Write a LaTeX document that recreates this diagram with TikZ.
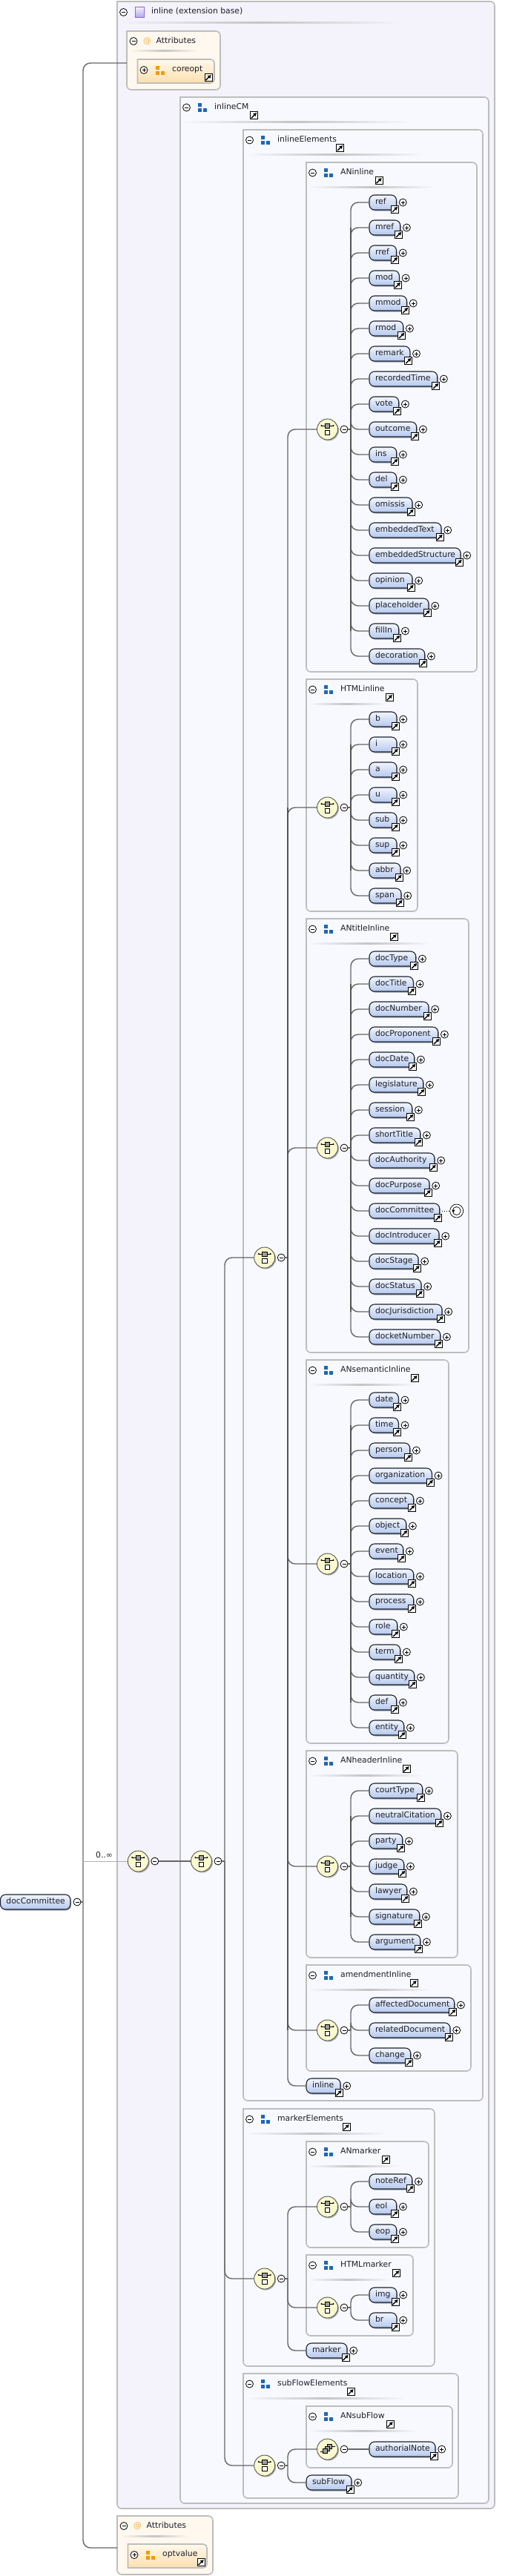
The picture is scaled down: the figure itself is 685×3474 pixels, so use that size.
\documentclass[tikz,border=0pt]{standalone}
\usepackage{fontspec}
\setmainfont{DejaVu Sans}
\usetikzlibrary{shadows,arrows.meta}

\definecolor{xouter}{HTML}{F4F2FA}
\definecolor{xinner}{HTML}{F8F9FE}
\definecolor{xattr}{HTML}{FEF8EE}
\definecolor{xline}{HTML}{BDBDBD}
\definecolor{xrule}{HTML}{C4C4C4}
\definecolor{xwirec}{HTML}{666666}
\definecolor{xthickc}{HTML}{555555}
\definecolor{xelemtop}{HTML}{F2F5FD}
\definecolor{xelembot}{HTML}{B4C9EE}
\definecolor{xedge}{HTML}{1C2233}
\definecolor{xtext}{HTML}{1E1E28}
\definecolor{xcompc}{HTML}{FBF9CE}
\definecolor{xblue}{HTML}{1F66B5}
\definecolor{xorange}{HTML}{F09A0C}
\definecolor{xattrtop}{HTML}{FFF9EC}
\definecolor{xattrbot}{HTML}{FDDFAE}

\tikzset{
  every node/.style={font=\fontsize{10.8}{12}\selectfont,text=xtext},
  xtitle/.style={anchor=west,inner sep=0pt,text height=8pt,text depth=2.5pt},
  xelem/.style={rectangle,anchor=west,rounded corners=7pt,draw=xedge,line width=1.1pt,outer sep=0pt,
    top color=xelemtop,bottom color=xelembot,minimum height=20pt,inner xsep=8pt,inner ysep=0pt,
    text width=#1pt-16pt,align=left,text height=8pt,text depth=2.5pt,
    drop shadow={shadow xshift=1pt,shadow yshift=-1.5pt,fill=black,opacity=.35}},
  xround/.style={circle,draw=black,line width=.8pt,fill=white,minimum size=10pt,inner sep=0pt,outer sep=0pt},
  xminus/.style={xround,path picture={
    \draw[line width=.8pt] ([xshift=-2.5pt]path picture bounding box.center) -- ([xshift=2.5pt]path picture bounding box.center);}},
  xplus/.style={xround,path picture={
    \draw[line width=.8pt] ([xshift=-2.5pt]path picture bounding box.center) -- ([xshift=2.5pt]path picture bounding box.center);
    \draw[line width=.8pt] ([yshift=-2.5pt]path picture bounding box.center) -- ([yshift=2.5pt]path picture bounding box.center);}},
  xlink/.style={rectangle,draw=black,line width=.9pt,fill=white,minimum size=10pt,inner sep=0pt,outer sep=0pt,path picture={
    \draw[black,line width=1.4pt,-{Latex[length=4.6pt,width=5.6pt]}]
      ([shift={(-3.5pt,-3.5pt)}]path picture bounding box.center) -- ([shift={(3.8pt,3.8pt)}]path picture bounding box.center);}},
  xsquares/.style={rectangle,minimum size=12pt,inner sep=0pt,path picture={
    \fill[#1] ([shift={(-6pt,6pt)}]path picture bounding box.center) rectangle ++(4.7pt,-5pt);
    \fill[#1] ([shift={(-6pt,-1pt)}]path picture bounding box.center) rectangle ++(4.7pt,-5pt);
    \fill[#1] ([shift={(1pt,-1pt)}]path picture bounding box.center) rectangle ++(5pt,-5pt);}},
  xcomp/.style={circle,draw=xthickc,line width=.9pt,fill=xcompc,minimum size=28pt,inner sep=0pt,outer sep=0pt,
    drop shadow={shadow xshift=1.5pt,shadow yshift=-1.5pt,fill=black,opacity=.3}},
  xseq/.style={xcomp,path picture={
    \draw[black,line width=.8pt] ([shift={(-8pt,5pt)}]path picture bounding box.center) -- ([shift={(8pt,5pt)}]path picture bounding box.center);
    \fill[black] ([shift={(-8pt,5pt)}]path picture bounding box.center) circle (1.1pt);
    \fill[black] ([shift={(8pt,5pt)}]path picture bounding box.center) circle (1.1pt);
    \draw[black,fill=gray!75,line width=.5pt] ([shift={(-3.1pt,8pt)}]path picture bounding box.center) rectangle ++(6.2pt,-6pt);
    \draw[black,fill=white,line width=.8pt] ([shift={(-3.2pt,-1pt)}]path picture bounding box.center) rectangle ++(6.4pt,-6.2pt);}},
  xchoice/.style={xcomp,path picture={
    \draw[black,line width=.8pt] ([shift={(-10pt,-3pt)}]path picture bounding box.center) -- ([shift={(-6pt,-3pt)}]path picture bounding box.center);
    \draw[black,line width=.8pt] ([shift={(6pt,4pt)}]path picture bounding box.center) -- ([shift={(10pt,4pt)}]path picture bounding box.center);
    \draw[black,fill=gray!75,line width=.5pt] ([shift={(0pt,7pt)}]path picture bounding box.center) rectangle ++(6pt,-6pt);
    \draw[black,fill=gray!75,line width=.5pt] ([shift={(-3pt,4pt)}]path picture bounding box.center) rectangle ++(6pt,-6pt);
    \draw[black,fill=gray!75,line width=.5pt] ([shift={(-6pt,1pt)}]path picture bounding box.center) rectangle ++(6pt,-6pt);}},
  xrecur/.style={circle,draw=black,line width=.7pt,fill=white,minimum size=18pt,inner sep=0pt,outer sep=0pt,path picture={
    \draw[black,line width=.7pt] (path picture bounding box.center) circle (5.5pt);
    \fill[black] ([shift={(-6.5pt,1.5pt)}]path picture bounding box.center) -- ++(4.4pt,0pt) -- ++(-2.2pt,-3.6pt) -- cycle;}},
  xbox/.style={draw=xline,line width=1.6pt},
  xwire/.style={draw=xwirec,line width=1.4pt,rounded corners=10pt},
  xthick/.style={draw=xthickc,line width=2.3pt},
  xthin/.style={draw=gray!60,line width=.6pt}
}

% frame with rounded right side: left, top, right, bottom, fill
\newcommand\xframe[5]{
  \draw[xbox,fill=#5] (#1,#2) [rounded corners=6pt] -- (#3,#2) -- (#3,#4) -- (#1,#4) [sharp corners] -- cycle;
}
% title rule fading at both ends: from, to, y, background
\newcommand\xrule[4]{
  \shade[left color=#4,right color=#4,middle color=xrule] (#1,#3-1) rectangle (#2,#3+1);
}
% model group box: name, left, top, right, bottom, link x, rule end
\newcommand\xgroup[7]{
  \xframe{#2}{#3}{#4}{#5}{xinner}
  \node[xminus] (#1-m) at (#2+8.5,#3+14) {};
  \node[xsquares=xblue] (#1-i) at (#2+30,#3+14) {};
  \node[xtitle] (#1-t) at (#2+46,#3+14) {#1};
  \node[xlink] (#1-link) at (#6,#3+24.7) {};
  \xrule{#2+2}{#7}{#3+33}{xinner}
}
% attribute box: name, left, top, right, bottom, attribute group
\newcommand\xattrs[6]{
  \xframe{#2}{#3}{#4}{#5}{xattr}
  \node[xminus] (#1-m) at (#2+9,#3+13.5) {};
  \node[xtitle,text=xorange!80!white] (#1-at) at (#2+22,#3+13.5) {@};
  \node[xtitle] (#1-t) at (#2+39.5,#3+13.5) {Attributes};
  \xrule{#2+5}{#2+96}{#3+27}{xattr}
  \draw[xbox,top color=xattrtop,bottom color=xattrbot]
    (#2+14.5,#3+38) [rounded corners=5pt] -- (#4-8,#3+38) -- (#4-8,#5-9) [sharp corners] -- (#2+14.5,#5-9) -- cycle;
  \node[xplus] (#1-p) at (#2+23,#3+52.5) {};
  \node[xsquares=xorange] (#1-i) at (#2+45,#3+52.5) {};
  \node[xtitle] (#6) at (#2+61,#3+52) {#6};
  \node[xlink] (#6-link) at (#4-16,#3+62.7) {};
}
% compositor with its collapse button: name, kind, x, y
\newcommand\xcompos[4]{
  \node[#2] (#1) at (#3,#4) {};
  \node[xminus] (#1-m) at (#3+22.5,#4) {};
}
% global element reference: name, left, y, right
\newcommand\xelement[4]{
  \pgfmathsetmacro\xw{#4-#2}
  \node[xelem=\xw] (#1) at (#2,#3) {#1};
  \node[xlink] (#1-link) at (#4-2,#3+9.5) {};
}
% stack of elements: left, first y, list of name/right
\newcommand\xitems[3]{
  \foreach \nm/\rx [count=\k from 0] in {#3} {
    \pgfmathsetmacro\yy{#2+34*\k}
    \xelement{\nm}{#1}{\yy}{\rx}
    \node[xplus] (\nm-plus) at (\rx+8.7,\yy) {};
  }
}
% wires from a button to a trunk and on to the targets: button, trunk x, targets
\newcommand\xwires[3]{
  \coordinate (#1-tr) at (#2,0);
  \draw[xwire] (#1.east) -- (#1-tr |- #1.east);
  \foreach \tg in {#3} \draw[xwire] (#1-tr |- #1.east) |- (\tg);
}

\begin{document}
\begin{tikzpicture}[x=1pt,y=-1pt]
  \useasboundingbox (0,0) rectangle (685,3474);

  % --- Outer extension box ---
  \xframe{158}{2}{667}{3383}{xouter}
  \node[xminus] (base-m) at (166.5,16.5) {};
  \node[rectangle,draw=violet!50!blue!60,line width=1pt,top color=xouter,bottom color=violet!30!blue!35,minimum width=12pt,minimum height=14pt,inner sep=0pt] (base-i) at (188,16.5) {};
  \node[xtitle] (base-t) at (204,16) {inline (extension base)};
  \xrule{160}{541}{31}{xouter}
  \xattrs{attrTop}{171}{42}{297}{121}{coreopt}
  \xattrs{attrBot}{158}{3393}{287}{3472}{optvalue}
  \coordinate (attrTop-in) at (171,85);
  \coordinate (attrBot-in) at (158,3436);
  % ---

  % --- Nested group boxes ---
  \xgroup{inlineCM}{243}{131}{659}{3376}{342.4}{555}
  \xgroup{inlineElements}{328}{175}{651}{2833}{458.5}{572}
  \xgroup{ANinline}{413}{219}{643}{906}{511}{587}
  \xgroup{HTMLinline}{413}{916}{563}{1229}{525.3}{520}
  \xgroup{ANtitleInline}{413}{1239}{632}{1824}{531}{580}
  \xgroup{ANsemanticInline}{413}{1834}{605}{2351}{559}{560}
  \xgroup{ANheaderInline}{413}{2361}{617}{2640}{548}{570}
  \xgroup{amendmentInline}{413}{2650}{635}{2793}{558}{582}
  \xgroup{markerElements}{328}{2844}{586}{3191}{467}{523}
  \xgroup{ANmarker}{413}{2888}{578}{3031}{520}{537}
  \xgroup{HTMLmarker}{413}{3041}{557}{3150}{534.7}{525}
  \xgroup{subFlowElements}{328}{3201}{618}{3369}{473}{547}
  \xgroup{ANsubFlow}{413}{3245}{610}{3328}{526}{563}
  % ---

  % --- Root element and compositors ---
  \node[xelem=94.5] (rootElem) at (0.5,2565) {docCommittee};
  \node[xminus] (rootElem-m) at (104,2565) {};
  \xcompos{seqBase}{xseq}{186.3}{2510}
  \node[inner sep=0pt,text height=8pt,text depth=2.5pt] (occurs) at (140.5,2503) {0..∞};
  \xcompos{seqCM}{xseq}{271.5}{2510}
  \xcompos{seqInline}{xseq}{356.7}{1696}
  \xcompos{seqMarker}{xseq}{356.7}{3073}
  \xcompos{seqSubFlow}{xseq}{356.7}{3325}
  \xcompos{seqANinline}{xseq}{441.5}{579}
  \xcompos{seqHTMLinline}{xseq}{441.5}{1089}
  \xcompos{seqANtitle}{xseq}{441.5}{1548}
  \xcompos{seqANsemantic}{xseq}{441.5}{2109}
  \xcompos{seqANheader}{xseq}{441.5}{2517}
  \xcompos{seqAmendment}{xseq}{441.5}{2738}
  \xcompos{seqANmarker}{xseq}{441.5}{2976}
  \xcompos{seqHTMLmarker}{xseq}{441.5}{3112}
  \xcompos{choiceSubFlow}{xchoice}{441.5}{3303}
  % ---

  % --- Elements ---
  \xitems{498}{273}{ref/534.5,mref/539.7,rref/534.5,mod/538.4,mmod/548.5,rmod/543.7,remark/552.8,recordedTime/589.7,vote/537.7,outcome/561.7,ins/534.7,del/534.7,omissis/556,embeddedText/595,embeddedStructure/621,opinion/556,placeholder/578,fillIn/537.7,decoration/572.7}
  \xitems{498}{970}{b/535,i/535,a/535,u/535,sub/535,sup/535,abbr/540,span/541}
  \xitems{498}{1293}{docType/560.7,docTitle/557.3,docNumber/578,docProponent/590.7,docDate/558.7,legislature/570.7,session/555.7,shortTitle/566.7,docAuthority/586,docPurpose/579}
  \xelement{docCommittee}{498}{1633}{592.7}
  \node[xrecur] (docCommittee-rec) at (615.7,1633) {};
  \xitems{498}{1667}{docIntroducer/592,docStage/564,docStatus/568,docJurisdiction/596,docketNumber/593.7}
  \xitems{498}{1888}{date/537.3,time/537.3,person/552.7,organization/582.3,concept/557.7,object/547.7,event/543.7,location/557.7,process/557.7,role/535.7,term/539.7,quantity/558.7,def/534.7,entity/544.7}
  \xitems{498}{2415}{courtType/569.7,neutralCitation/594.7,party/542.7,judge/544.7,lawyer/548.7,signature/565.7,argument/566.7}
  \xitems{498}{2704}{affectedDocument/612.7,relatedDocument/607,change/553.7}
  \xitems{413}{2813}{inline/459}
  \xitems{498}{2942}{noteRef/555.7,eol/534.7,eop/534.7}
  \xitems{498}{3095}{img/535,br/535}
  \xitems{413}{3170}{marker/468}
  \xitems{498}{3303}{authorialNote/587}
  \xitems{413}{3348}{subFlow/474}
  % ---

  % --- Wires ---
  \xwires{rootElem-m}{112}{attrTop-in,attrBot-in}
  \draw[xthin] (rootElem-m-tr |- seqBase.west) -- (seqBase.west);
  \draw[xwire] (seqBase-m.east) -- (seqCM.west);
  \xwires{seqCM-m}{303}{seqInline,seqMarker,seqSubFlow}
  \xwires{seqInline-m}{388}{seqANinline,seqHTMLinline,seqANtitle,seqANsemantic,seqANheader,seqAmendment,inline}
  \draw[xthick] (seqInline-m-tr |- seqHTMLinline.west) -- (seqInline-m-tr |- seqAmendment.west);
  \xwires{seqMarker-m}{388}{seqANmarker,seqHTMLmarker,marker}
  \xwires{seqSubFlow-m}{388}{choiceSubFlow,subFlow}
  \xwires{seqANinline-m}{473}{ref,mref,rref,mod,mmod,rmod,remark,recordedTime,vote,outcome,ins,del,omissis,embeddedText,embeddedStructure,opinion,placeholder,fillIn,decoration}
  \draw[xthick] (seqANinline-m-tr |- mref.west) -- (seqANinline-m-tr |- fillIn.west);
  \xwires{seqHTMLinline-m}{473}{b,i,a,u,sub,sup,abbr,span}
  \draw[xthick] (seqHTMLinline-m-tr |- i.west) -- (seqHTMLinline-m-tr |- abbr.west);
  \xwires{seqANtitle-m}{473}{docType,docTitle,docNumber,docProponent,docDate,legislature,session,shortTitle,docAuthority,docPurpose,docCommittee,docIntroducer,docStage,docStatus,docJurisdiction,docketNumber}
  \draw[xthick] (seqANtitle-m-tr |- docTitle.west) -- (seqANtitle-m-tr |- docJurisdiction.west);
  \xwires{seqANsemantic-m}{473}{date,time,person,organization,concept,object,event,location,process,role,term,quantity,def,entity}
  \draw[xthick] (seqANsemantic-m-tr |- time.west) -- (seqANsemantic-m-tr |- def.west);
  \xwires{seqANheader-m}{473}{courtType,neutralCitation,party,judge,lawyer,signature,argument}
  \draw[xthick] (seqANheader-m-tr |- neutralCitation.west) -- (seqANheader-m-tr |- signature.west);
  \xwires{seqAmendment-m}{473}{affectedDocument,relatedDocument,change}
  \xwires{seqANmarker-m}{473}{noteRef,eol,eop}
  \xwires{seqHTMLmarker-m}{473}{img,br}
  \draw[xwire] (choiceSubFlow-m.east) -- (authorialNote.west);
  \draw[dotted,line width=1pt] (docCommittee-link.north east |- docCommittee.east) -- (docCommittee-rec.west);
  % ---
\end{tikzpicture}
\end{document}
